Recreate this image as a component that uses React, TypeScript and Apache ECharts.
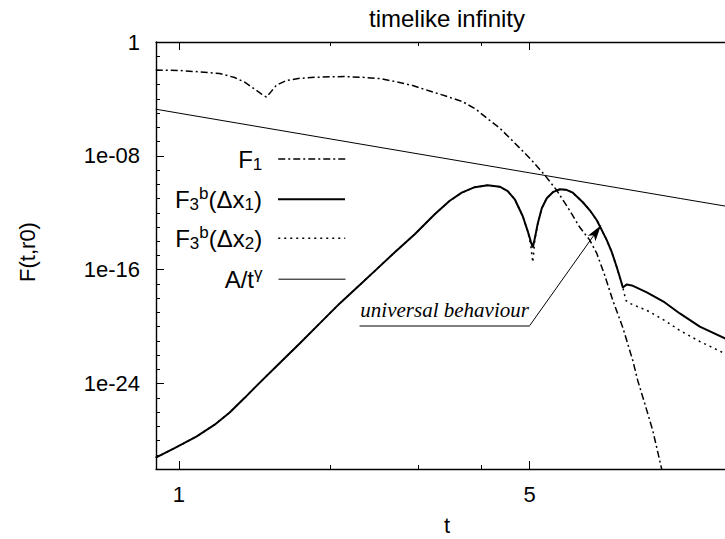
import React, { useEffect, useRef } from 'react';
import * as echarts from 'echarts';

// ---- text ----
const chartTitle = 'timelike infinity';
const xAxisName = 't';
const yAxisName = 'F(t,r0)';
const annotationText = 'universal behaviour';

// ---- axes ----
const tMin = 0.9;
const tMax = 13.0;
const fMin = 1e-30;
const fMax = 1;
const xMajorTicks = [1, 5];
const xMinorTicks = [2, 3, 4];
const yMajorTicks = [1, 1e-8, 1e-16, 1e-24];
const yDecadeCount = 30;

// ---- series names ----
const seriesNames = ['F1', 'F3b(Δx1)', 'F3b(Δx2)', 'A/tγ'];

// ---- F1 ----
const f1T = [0.899, 1.003, 1.100, 1.205, 1.291, 1.352, 1.415, 1.461, 1.494, 1.523, 1.565, 1.639, 1.740, 1.864, 1.997, 2.140, 2.324, 2.512, 2.713, 2.923, 3.160, 3.401, 3.678, 3.904, 4.106, 4.357, 4.604, 5.000, 5.357, 5.659, 5.952, 6.290, 6.586, 6.801, 7.055, 7.319, 7.662, 8.022, 8.208, 8.477, 8.793, 9.166, 9.335];
const f1V = [1.07e-2, 9.9e-3, 8.0e-3, 6.1e-3, 3.2e-3, 1.5e-3, 4.9e-4, 2.2e-4, 1.35e-4, 3.0e-4, 9.4e-4, 2.0e-3, 2.8e-3, 3.3e-3, 3.6e-3, 3.7e-3, 3.3e-3, 2.7e-3, 1.6e-3, 8.7e-4, 3.6e-4, 1.6e-4, 6.3e-5, 1.9e-5, 4.5e-6, 8.9e-7, 1.3e-7, 6.9e-9, 4.4e-10, 3.8e-11, 2.4e-12, 9.6e-14, 1.2e-14, 1.4e-15, 4.0e-17, 7.0e-19, 8.8e-21, 4.2e-23, 1.6e-24, 3.9e-26, 5.0e-28, 8.9e-31, 6.7e-32];

// ---- F3b(Δx1) ----
const f3aT = [0.899, 0.980, 1.083, 1.178, 1.262, 1.352, 1.459, 1.588, 1.740, 1.908, 2.091, 2.292, 2.475, 2.692, 2.950, 3.233, 3.464, 3.660, 3.885, 4.124, 4.357, 4.520, 4.668, 4.843, 4.955, 5.023, 5.070, 5.117, 5.188, 5.284, 5.406, 5.559, 5.740, 5.901, 6.093, 6.379, 6.587, 6.802, 7.120, 7.286, 7.455, 7.592, 7.663, 7.806, 7.987, 8.556, 9.292, 9.954, 10.91, 12.24, 12.99];
const f3aV = [6.2e-30, 2.9e-29, 1.9e-28, 1.3e-27, 9.2e-27, 1.0e-25, 1.5e-24, 2.8e-23, 6.6e-22, 1.7e-20, 4.3e-19, 8.6e-18, 1.06e-16, 1.7e-15, 3.1e-14, 7.9e-13, 7.0e-12, 2.6e-11, 6.3e-11, 8.6e-11, 6.8e-11, 3.3e-11, 8.9e-12, 5.7e-13, 5.0e-14, 9.9e-15, 3.7e-15, 1.6e-14, 1.8e-13, 2.1e-12, 1.05e-11, 2.8e-11, 4.5e-11, 4.2e-11, 2.6e-11, 5.5e-12, 1.5e-12, 3.0e-13, 1.2e-14, 1.7e-15, 1.5e-16, 1.8e-17, 5.7e-18, 9.3e-18, 7.9e-18, 2.6e-18, 5.0e-19, 8.5e-20, 1.0e-20, 1.5e-21, 4.8e-22];

// ---- F3b(Δx2) ----
const f3bT = [0.899, 0.980, 1.083, 1.178, 1.262, 1.352, 1.459, 1.588, 1.740, 1.908, 2.091, 2.292, 2.475, 2.692, 2.950, 3.233, 3.464, 3.660, 3.885, 4.124, 4.357, 4.520, 4.668, 4.843, 4.955, 5.023, 5.070, 5.117, 5.188, 5.284, 5.406, 5.559, 5.740, 5.901, 6.093, 6.379, 6.587, 6.802, 7.120, 7.286, 7.455, 7.592, 7.663, 7.770, 7.914, 8.556, 9.292, 9.954, 10.91, 12.24, 12.99];
const f3bV = [6.2e-30, 2.9e-29, 1.9e-28, 1.3e-27, 9.2e-27, 1.0e-25, 1.5e-24, 2.8e-23, 6.6e-22, 1.7e-20, 4.3e-19, 8.6e-18, 1.06e-16, 1.7e-15, 3.1e-14, 7.9e-13, 7.0e-12, 2.6e-11, 6.3e-11, 8.6e-11, 6.8e-11, 3.3e-11, 8.9e-12, 5.7e-13, 5.0e-14, 5.2e-15, 3.3e-16, 1.2e-14, 1.8e-13, 2.1e-12, 1.05e-11, 2.8e-11, 4.5e-11, 4.2e-11, 2.6e-11, 5.5e-12, 1.5e-12, 3.0e-13, 1.2e-14, 1.7e-15, 1.5e-16, 1.8e-17, 5.7e-18, 7.0e-19, 4.3e-19, 1.4e-19, 2.7e-20, 5.4e-21, 9.1e-22, 1.3e-22, 4.2e-23];

// ---- A/t^gamma ----
const powT = [0.899, 1, 2, 5, 10, 12.99];
const powV = [1.9e-5, 1.0e-5, 1.56e-7, 6.4e-10, 1.0e-11, 2.1e-12];

// ---- annotation anchors (t, F) ----
const underlineStart = [2.29, 1.2e-20];
const underlineEnd = [5.0, 1.2e-20];
const arrowTip = [6.93, 1.3e-13];

const FONT = 'Liberation Sans, Arial, Helvetica, sans-serif';
const SERIF = 'Liberation Serif, Times New Roman, serif';

export default function App() {
  const ref = useRef<HTMLDivElement>(null);

  useEffect(() => {
    if (!ref.current) return;
    const chart = echarts.init(ref.current, null, { renderer: 'svg' });
    const lg = (v: number) => Math.log10(v);
    const pairs = (ts: number[], vs: number[]) => ts.map((t, i) => [lg(t), lg(vs[i])]);

    const xMin = lg(tMin), xMax = lg(tMax), yMin = lg(fMin), yMax = lg(fMax);
    const yMinor = Array.from({ length: yDecadeCount + 1 }, (_, i) => -i);

    const axisLineStyle = { color: '#000', width: 1.4 };
    const tickStyle = { color: '#000', width: 1 };

    const baseX: any = { type: 'value', min: xMin, max: xMax, splitLine: { show: false } };
    const baseY: any = { type: 'value', min: yMin, max: yMax, splitLine: { show: false } };

    const xAxes = [
      {
        ...baseX, position: 'bottom',
        axisLine: { show: true, onZero: false, lineStyle: axisLineStyle },
        axisTick: { show: true, inside: true, length: 8, customValues: xMajorTicks.map(lg), lineStyle: tickStyle },
        axisLabel: {
          show: true, customValues: xMajorTicks.map(lg),
          formatter: (v: number) => String(Math.round(Math.pow(10, v))),
          color: '#000', fontFamily: FONT, fontSize: 22, margin: 14,
        },
      },
      {
        ...baseX, position: 'bottom',
        axisLine: { show: false, onZero: false },
        axisTick: { show: true, inside: true, length: 4, customValues: xMinorTicks.map(lg), lineStyle: tickStyle },
        axisLabel: { show: false },
      },
      {
        ...baseX, position: 'top',
        axisLine: { show: true, onZero: false, lineStyle: axisLineStyle },
        axisTick: { show: true, inside: true, length: 8, customValues: xMajorTicks.map(lg), lineStyle: tickStyle },
        axisLabel: { show: false },
      },
      {
        ...baseX, position: 'top',
        axisLine: { show: false, onZero: false },
        axisTick: { show: true, inside: true, length: 4, customValues: xMinorTicks.map(lg), lineStyle: tickStyle },
        axisLabel: { show: false },
      },
    ];

    const yAxes = [
      {
        ...baseY, position: 'left',
        axisLine: { show: true, onZero: false, lineStyle: axisLineStyle },
        axisTick: { show: true, inside: true, length: 8, customValues: yMajorTicks.map(lg), lineStyle: tickStyle },
        axisLabel: {
          show: true, customValues: yMajorTicks.map(lg),
          formatter: (v: number) => {
            const e = Math.round(-v);
            return e === 0 ? '1' : '1e-' + String(e).padStart(2, '0');
          },
          color: '#000', fontFamily: FONT, fontSize: 22, margin: 16,
        },
      },
      {
        ...baseY, position: 'left',
        axisLine: { show: false, onZero: false },
        axisTick: { show: true, inside: true, length: 4, customValues: yMinor, lineStyle: tickStyle },
        axisLabel: { show: false },
      },
    ];

    const richNames: Record<string, string> = {
      'F1': '{m|F}{sub|1}',
      'F3b(Δx1)': '{m|F}{sub|3}{sup|b}{m|(Δx}{sub|1}{m|)}',
      'F3b(Δx2)': '{m|F}{sub|3}{sup|b}{m|(Δx}{sub|2}{m|)}',
      'A/tγ': '{m|A/t}{sup|γ}',
    };
    const rich = {
      m: { fontSize: 24, fontFamily: FONT, color: '#000' },
      sub: { fontSize: 17, fontFamily: FONT, color: '#000', padding: [11, 0, 0, 0] },
      sup: { fontSize: 17, fontFamily: FONT, color: '#000', padding: [0, 0, 12, 0] },
    };
    const lineStyles: any[] = [
      { color: '#000', width: 1.5, type: [7, 3, 2, 3] },
      { color: '#000', width: 2, type: 'solid' },
      { color: '#000', width: 1.5, type: [2, 4] },
      { color: '#000', width: 1, type: 'solid' },
    ];
    const legendCenters = [162.7, 202.7, 241.7, 282.7];
    const legendItemH = 36;
    const legends = seriesNames.map((name, i) => ({
      data: [name],
      orient: 'vertical',
      align: 'right',
      right: 760 - 346,
      top: legendCenters[i] - legendItemH / 2,
      itemWidth: 67,
      itemHeight: legendItemH,
      padding: 0,
      selectedMode: false,
      itemStyle: { opacity: 0 },
      lineStyle: { ...lineStyles[i] },
      formatter: (n: string) => richNames[n],
      textStyle: { color: '#000', fontFamily: FONT, fontSize: 24, padding: [0, 11, 0, 0], rich },
    }));

    const lineSeries = (name: string, data: number[][], ls: any, z: number, extra: any = {}) => ({
      name, type: 'line', xAxisIndex: 0, yAxisIndex: 0, data,
      symbol: 'none', showSymbol: false, clip: true, silent: true, z,
      lineStyle: ls, itemStyle: { color: '#000' }, ...extra,
    });

    const option: any = {
      animation: false,
      backgroundColor: '#fff',
      grid: { left: 156, top: 42, right: 22, bottom: 70, containLabel: false, outerBoundsMode: 'none' },
      xAxis: xAxes,
      yAxis: yAxes,
      legend: legends,
      graphic: [
        { type: 'text', x: 447, y: 18, silent: true,
          style: { text: chartTitle, fontFamily: FONT, fontSize: 24, fill: '#000', align: 'center', verticalAlign: 'middle' } },
        { type: 'text', x: 447, y: 525, silent: true,
          style: { text: xAxisName, fontFamily: FONT, fontSize: 22, fill: '#000', align: 'center', verticalAlign: 'middle' } },
        { type: 'text', x: 27, y: 252, rotation: Math.PI / 2, silent: true,
          style: { text: yAxisName, fontFamily: FONT, fontSize: 22, fill: '#000', align: 'center', verticalAlign: 'middle' } },
      ],
      series: [
        lineSeries(seriesNames[0], pairs(f1T, f1V), lineStyles[0], 3),
        lineSeries(seriesNames[2], pairs(f3bT, f3bV), lineStyles[2], 2),
        lineSeries(seriesNames[1], pairs(f3aT, f3aV), lineStyles[1], 4, {
          markLine: {
            silent: true, animation: false, symbol: ['none', 'none'],
            data: [
              [
                { coord: [lg(underlineStart[0]), lg(underlineStart[1])], symbol: 'none',
                  lineStyle: { color: '#555', width: 1.5, type: 'solid' },
                  label: { show: true, formatter: annotationText, position: 'insideMiddleTop', distance: 5,
                    fontFamily: SERIF, fontStyle: 'italic', fontSize: 21, color: '#000' } },
                { coord: [lg(underlineEnd[0]), lg(underlineEnd[1])], symbol: 'none' },
              ],
              [
                { coord: [lg(underlineEnd[0]), lg(underlineEnd[1])], symbol: 'none',
                  lineStyle: { color: '#000', width: 1, type: 'solid' }, label: { show: false } },
                { coord: [lg(arrowTip[0]), lg(arrowTip[1])], symbol: 'arrow', symbolSize: [7, 16] },
              ],
            ],
          },
        }),
        lineSeries(seriesNames[3], pairs(powT, powV), lineStyles[3], 1),
      ],
    };
    chart.setOption(option);
    return () => chart.dispose();
  }, []);

  return (
    <div style={{ position: 'absolute', left: 0, top: 0, width: 725, height: 539, overflow: 'hidden', background: '#fff' }}>
      <div ref={ref} style={{ width: 760, height: 539 }} />
    </div>
  );
}
